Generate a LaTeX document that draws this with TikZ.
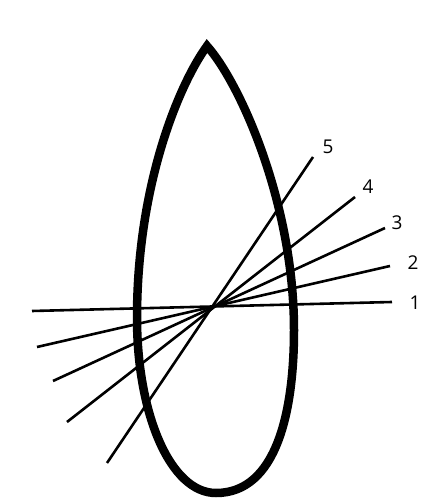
\documentclass[tikz,border=0pt]{standalone}
\usepackage{fontspec}
\setmainfont{Open Sans}
\usepackage{tikz}
\usetikzlibrary{positioning, calc}
\tikzset{
  outline/.style = {
    draw=black, line width=8.5pt, line join=miter, miter limit=20
  },
  ray/.style = {draw=black, line width=2.6pt},
  raylabel/.style = {
    inner sep=0pt, font=\fontsize{19}{19}\selectfont
  }
}
\begin{document}
\begin{tikzpicture}[x=1pt, y=1pt]
  \useasboundingbox (0,0) rectangle (429,503);
  % Drop-shaped outline
  \coordinate (top)    at (207,457);
  \coordinate (right)  at (294,173);
  \coordinate (bottom) at (216,10);
  \coordinate (left)   at (137,185);
  \draw[outline] (top)
    .. controls (240,420) and (294,300) .. (right)
    .. controls (294,90) and (276,10) .. (bottom)
    .. controls (170,10) and (137,90) .. (left)
    .. controls (137,320) and (180,420) .. cycle;
  % Rays with their numbers
  \foreach \n/\ax/\ay/\bx/\by/\lx/\ly in {
      1/32/192/392/201/415/200,
      2/37/156/390/237/413/240,
      3/53/122/385/275/397/280,
      4/67/81/355/306/368/316,
      5/107/40/313/346/328/356} {
    \coordinate (a\n) at (\ax,\ay);
    \coordinate (b\n) at (\bx,\by);
    \node[raylabel] (l\n) at (\lx,\ly) {\n};
    \draw[ray] (a\n) -- (b\n);
  }
\end{tikzpicture}
\end{document}
